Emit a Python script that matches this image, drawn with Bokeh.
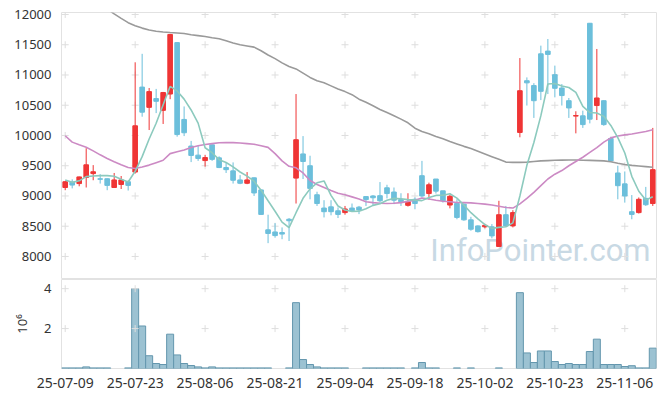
import numpy as np
from bokeh.plotting import figure
from bokeh.layouts import column
from bokeh.models import FixedTicker, Range1d, Label
from bokeh.embed import file_html
from bokeh.resources import INLINE

dates = ["25-07-09", "25-07-10", "25-07-11", "25-07-14", "25-07-15", "25-07-16", "25-07-17", "25-07-18", "25-07-21", "25-07-22",
         "25-07-23", "25-07-24", "25-07-25", "25-07-28", "25-07-29", "25-07-30", "25-07-31", "25-08-01", "25-08-04", "25-08-05",
         "25-08-06", "25-08-07", "25-08-08", "25-08-11", "25-08-12", "25-08-13", "25-08-14", "25-08-18", "25-08-19", "25-08-20",
         "25-08-21", "25-08-22", "25-08-25", "25-08-26", "25-08-27", "25-08-28", "25-08-29", "25-09-01", "25-09-02", "25-09-03",
         "25-09-04", "25-09-05", "25-09-08", "25-09-09", "25-09-10", "25-09-11", "25-09-12", "25-09-15", "25-09-16", "25-09-17",
         "25-09-18", "25-09-19", "25-09-22", "25-09-23", "25-09-24", "25-09-25", "25-09-26", "25-09-29", "25-09-30", "25-10-01",
         "25-10-02", "25-10-10", "25-10-13", "25-10-14", "25-10-15", "25-10-16", "25-10-17", "25-10-20", "25-10-21", "25-10-22",
         "25-10-23", "25-10-24", "25-10-27", "25-10-28", "25-10-29", "25-10-30", "25-10-31", "25-11-03", "25-11-04", "25-11-05",
         "25-11-06", "25-11-07", "25-11-10", "25-11-11", "25-11-12"]

opens = [9140, 9230, 9205, 9305, 9370, 9285, 9285, 9140, 9190, 9235,
         9395, 10800, 10465, 10610, 10415, 10685, 11535, 10265, 9825, 9675,
         9585, 9845, 9630, 9470, 9415, 9265, 9210, 9300, 9100, 8440,
         8405, 8395, 8615, 9295, 9695, 9500, 9020, 8800, 8820, 8755,
         8725, 8800, 8815, 8990, 9000, 9005, 9135, 9065, 8940, 8845,
         8945, 9335, 9040, 9280, 9085, 8850, 8875, 8865, 8605, 8505,
         8490, 8490, 8165, 8690, 8505, 10050, 10905, 10825, 11350, 11395,
         11005, 10785, 10575, 10320, 10325, 11855, 10495, 10575, 9950, 9380,
         9200, 8740, 8725, 8960, 8875]
highs = [9245, 9275, 9320, 9790, 9510, 9360, 9290, 9380, 9330, 9260,
         11210, 11350, 10785, 10770, 10720, 11680, 11540, 10480, 9910, 9825,
         9680, 9850, 9655, 9555, 9555, 9345, 9395, 9305, 9105, 8690,
         8550, 8480, 8635, 10685, 9990, 9665, 9070, 8930, 8930, 8810,
         8835, 8875, 8835, 8995, 9015, 9230, 9185, 9140, 9045, 9045,
         8975, 9580, 9220, 9280, 9085, 9020, 8945, 8870, 8655, 8515,
         8535, 8535, 8920, 8835, 8765, 11280, 10960, 10865, 11485, 11595,
         11155, 10850, 10620, 10400, 10410, 11860, 11430, 10580, 9980, 9500,
         9405, 9015, 8975, 9150, 10125]
lows = [9095, 9125, 9160, 9140, 9260, 9205, 9095, 9140, 9115, 9090,
        9370, 10310, 10090, 10370, 10190, 10600, 9980, 9990, 9560, 9580,
        9485, 9580, 9460, 9380, 9205, 9195, 9195, 9000, 8690, 8220,
        8310, 8285, 8255, 8875, 9280, 8945, 8835, 8645, 8680, 8635,
        8690, 8740, 8700, 8835, 8835, 8890, 8960, 8865, 8835, 8825,
        8780, 8975, 8940, 9040, 8890, 8795, 8615, 8590, 8425, 8395,
        8465, 8300, 8160, 8490, 8480, 9970, 10495, 10290, 10585, 10685,
        10630, 10495, 10290, 10035, 10125, 10200, 10255, 10160, 9570, 8945,
        8890, 8615, 8710, 8835, 8835]
closes = [9235, 9180, 9315, 9515, 9400, 9275, 9175, 9265, 9265, 9175,
          10160, 10385, 10725, 10565, 10710, 11670, 10015, 10045, 9670, 9620,
          9635, 9605, 9470, 9435, 9260, 9210, 9265, 9050, 8695, 8380,
          8345, 8370, 8590, 9930, 9570, 9125, 8875, 8740, 8740, 8695,
          8785, 8755, 8770, 8940, 8970, 8920, 9040, 8930, 8905, 8905,
          8875, 9000, 9185, 9080, 8920, 8995, 8645, 8605, 8450, 8410,
          8515, 8340, 8690, 8505, 8725, 10740, 10870, 10575, 10730, 11340,
          10780, 10660, 10455, 10330, 10180, 10270, 10620, 10180, 9580, 9170,
          9000, 8695, 8945, 8855, 9435]
volume = [30000, 30000, 30000, 80000, 30000, 30000, 30000, 0, 0, 30000,
          4000000, 2130000, 640000, 250000, 200000, 1720000, 680000, 250000, 150000, 80000,
          30000, 80000, 30000, 30000, 30000, 30000, 30000, 30000, 30000, 30000,
          0, 0, 30000, 3300000, 450000, 200000, 80000, 30000, 30000, 30000,
          30000, 0, 0, 30000, 30000, 30000, 30000, 30000, 30000, 0,
          30000, 300000, 30000, 30000, 0, 0, 30000, 0, 30000, 0,
          0, 0, 30000, 0, 0, 3800000, 780000, 300000, 880000, 880000,
          350000, 200000, 250000, 200000, 200000, 850000, 1470000, 200000, 200000, 200000,
          100000, 140000, 30000, 30000, 1020000]
ma5_head = [9265, 9225, 9250, 9320]
ma20 = [9995, 9890, 9845, 9805, 9745, 9680, 9620, 9565, 9515, 9470,
        9455, 9480, 9510, 9550, 9590, 9700, 9730, 9760, 9800, 9830,
        9850, 9865, 9880, 9885, 9882, 9875, 9865, 9855, 9830, 9803,
        9700, 9580, 9490, 9465, 9380, 9255, 9190, 9140, 9090, 9045,
        9020, 8985, 8950, 8905, 8890, 8880, 8876, 8880, 8890, 8910,
        8930, 8965, 8950, 8930, 8912, 8905, 8892, 8890, 8885, 8875,
        8865, 8850, 8830, 8810, 8800, 8870, 8960, 9060, 9170, 9280,
        9360, 9420, 9500, 9570, 9640, 9720, 9800, 9890, 9960, 9990,
        10010, 10025, 10045, 10065, 10095]
ma60 = [12600, 12520, 12430, 12340, 12250, 12170, 12090, 12010, 11935, 11865,
        11815, 11775, 11745, 11724, 11710, 11702, 11695, 11685, 11665, 11650,
        11635, 11615, 11598, 11565, 11530, 11500, 11480, 11460, 11400, 11330,
        11270, 11200, 11140, 11100, 11030, 10960, 10905, 10870, 10820, 10770,
        10725, 10675, 10600, 10550, 10490, 10430, 10380, 10325, 10270, 10210,
        10120, 10065, 10030, 9985, 9945, 9900, 9860, 9820, 9785, 9740,
        9695, 9650, 9605, 9560, 9555, 9555, 9560, 9570, 9580, 9585,
        9590, 9592, 9594, 9594, 9590, 9588, 9585, 9580, 9565, 9540,
        9520, 9505, 9495, 9485, 9475]
price_ticks = [8000, 8500, 9000, 9500, 10000, 10500, 11000, 11500, 12000]
vol_ticks = [2, 4]
label_every = 10

UP = "#ef3535"
DOWN = "#6cbfdb"
FONT = "Noto Sans"

idx = np.arange(len(dates))
o = np.array(opens, dtype=float)
c = np.array(closes, dtype=float)
h = np.array(highs, dtype=float)
l = np.array(lows, dtype=float)
colors = [UP if cc >= oo else DOWN for oo, cc in zip(o, c)]
ma5 = np.array([ma5_head[i] if i < 4 else c[i - 4:i + 1].mean() for i in range(len(c))])
x_ticks = list(range(0, len(dates), label_every))

xr = Range1d(-0.53, len(dates) - 1 + 0.53)

p1 = figure(width=657, height=279, x_range=xr, y_range=Range1d(7619, 12033),
            output_backend="svg", toolbar_location=None, tools="",
            x_axis_location=None, min_border_left=61, min_border_right=1,
            min_border_top=12, min_border_bottom=0)
p1.grid.visible = False
p1.outline_line_color = "#e2e2e2"
p1.yaxis.ticker = FixedTicker(ticks=price_ticks)
p1.yaxis.axis_line_color = None
p1.yaxis.major_tick_line_color = None
p1.yaxis.minor_tick_line_color = None
p1.yaxis.major_label_standoff = 4
p1.yaxis.major_label_text_font = FONT
p1.yaxis.major_label_text_font_size = "13px"
p1.yaxis.major_label_text_color = "#333333"

gx = [t for t in x_ticks for _ in price_ticks]
gy = [v for _ in x_ticks for v in price_ticks]
p1.scatter(gx, gy, marker="cross", size=7, line_color="#dedede", line_width=1)

wm = Label(x=52.2, y=7796, text="InfoPointer.com", text_font="Roboto",
           text_font_size="31px", text_color="#c8d9e4", level="underlay")
p1.add_layout(wm)

p1.segment(x0=idx, y0=l, x1=idx, y1=h, line_color=colors, line_width=1)
p1.vbar(x=idx, width=0.66, top=np.maximum(o, c), bottom=np.minimum(o, c),
        fill_color=colors, line_color=colors, line_width=1)

p1.line(idx, ma60, line_color="#9a9a9a", line_width=1.6)
p1.line(idx, ma20, line_color="#cc8ac4", line_width=1.6)
p1.line(idx, ma5, line_color="#8ccabe", line_width=1.6)

p2 = figure(width=657, height=111, x_range=xr, y_range=Range1d(0, 4.46),
            output_backend="svg", toolbar_location=None, tools="",
            min_border_left=61, min_border_right=1, min_border_top=0, min_border_bottom=21)
p2.grid.visible = False
p2.outline_line_color = "#e2e2e2"
vol_m = np.array(volume, dtype=float) / 1e6
mask = vol_m > 0
p2.vbar(x=idx[mask], width=1.0, top=vol_m[mask], bottom=0,
        fill_color="#9cc2d2", line_color="#6497ae", line_width=1)
vx = [t for t in x_ticks for _ in vol_ticks]
vy = [v for _ in x_ticks for v in vol_ticks]
p2.scatter(vx, vy, marker="cross", size=7, line_color="#dedede", line_width=1)

p2.xaxis.ticker = FixedTicker(ticks=x_ticks)
p2.xaxis.major_label_overrides = {t: dates[t] for t in x_ticks}
p2.xaxis.axis_line_color = None
p2.xaxis.major_tick_line_color = None
p2.xaxis.minor_tick_line_color = None
p2.xaxis.major_label_standoff = 3
p2.xaxis.major_label_text_font = FONT
p2.xaxis.major_label_text_font_size = "14px"
p2.xaxis.major_label_text_color = "#333333"

p2.yaxis.ticker = FixedTicker(ticks=vol_ticks)
p2.yaxis.axis_line_color = None
p2.yaxis.major_tick_line_color = None
p2.yaxis.minor_tick_line_color = None
p2.yaxis.major_label_standoff = 4
p2.yaxis.major_label_text_font = FONT
p2.yaxis.major_label_text_font_size = "13px"
p2.yaxis.major_label_text_color = "#333333"
p2.yaxis.axis_label = "10⁶"
p2.yaxis.axis_label_text_font = FONT
p2.yaxis.axis_label_text_font_style = "normal"
p2.yaxis.axis_label_text_font_size = "13px"
p2.yaxis.axis_label_text_color = "#333333"
p2.yaxis.axis_label_standoff = 10

layout = column(p1, p2)
open("out.html", "w").write(file_html(layout, INLINE))
